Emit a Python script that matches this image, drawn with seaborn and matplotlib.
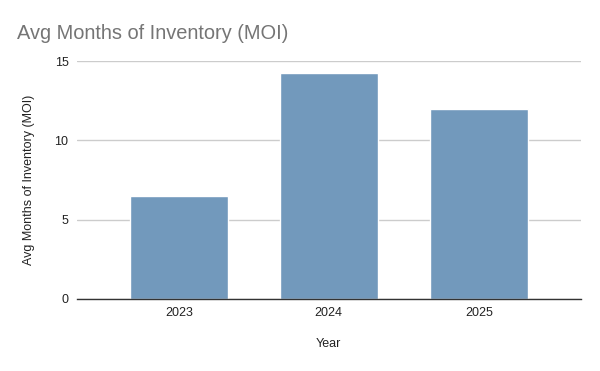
import matplotlib
matplotlib.use("Agg")
import matplotlib.pyplot as plt
import seaborn as sns
import pandas as pd

# Data
years = ["2023", "2024", "2025"]
moi = [6.48, 14.25, 12.0]

df = pd.DataFrame({"Year": years, "MOI": moi})

sns.set_style("white")
plt.rcParams["font.family"] = ["Liberation Sans", "DejaVu Sans"]

fig = plt.figure(figsize=(6, 3.71), dpi=100)
ax = fig.add_axes([0.128, 0.195, 0.84, 0.64])

sns.barplot(data=df, x="Year", y="MOI", color="#7299bc", saturation=1,
            width=0.65, ax=ax, zorder=2)

ax.set_xlim(-0.68, 2.68)
ax.set_ylim(0, 15)
ax.set_yticks([0, 5, 10, 15])
ax.yaxis.grid(True, color="#cccccc", linewidth=1, zorder=0)
ax.set_axisbelow(True)
for s in ["top", "right", "left"]:
    ax.spines[s].set_visible(False)
ax.spines["bottom"].set_color("#333333")
ax.spines["bottom"].set_linewidth(1)
ax.tick_params(axis="both", length=0, labelsize=9, labelcolor="#222222", pad=6)

ax.set_xlabel("Year", fontsize=9, color="#222222", labelpad=14)
ax.set_ylabel("Avg Months of Inventory (MOI)", fontsize=9, color="#222222", labelpad=14)

fig.text(0.028, 0.895, "Avg Months of Inventory (MOI)", fontsize=14.4, color="#757575")

fig.savefig("out.png", dpi=100)
